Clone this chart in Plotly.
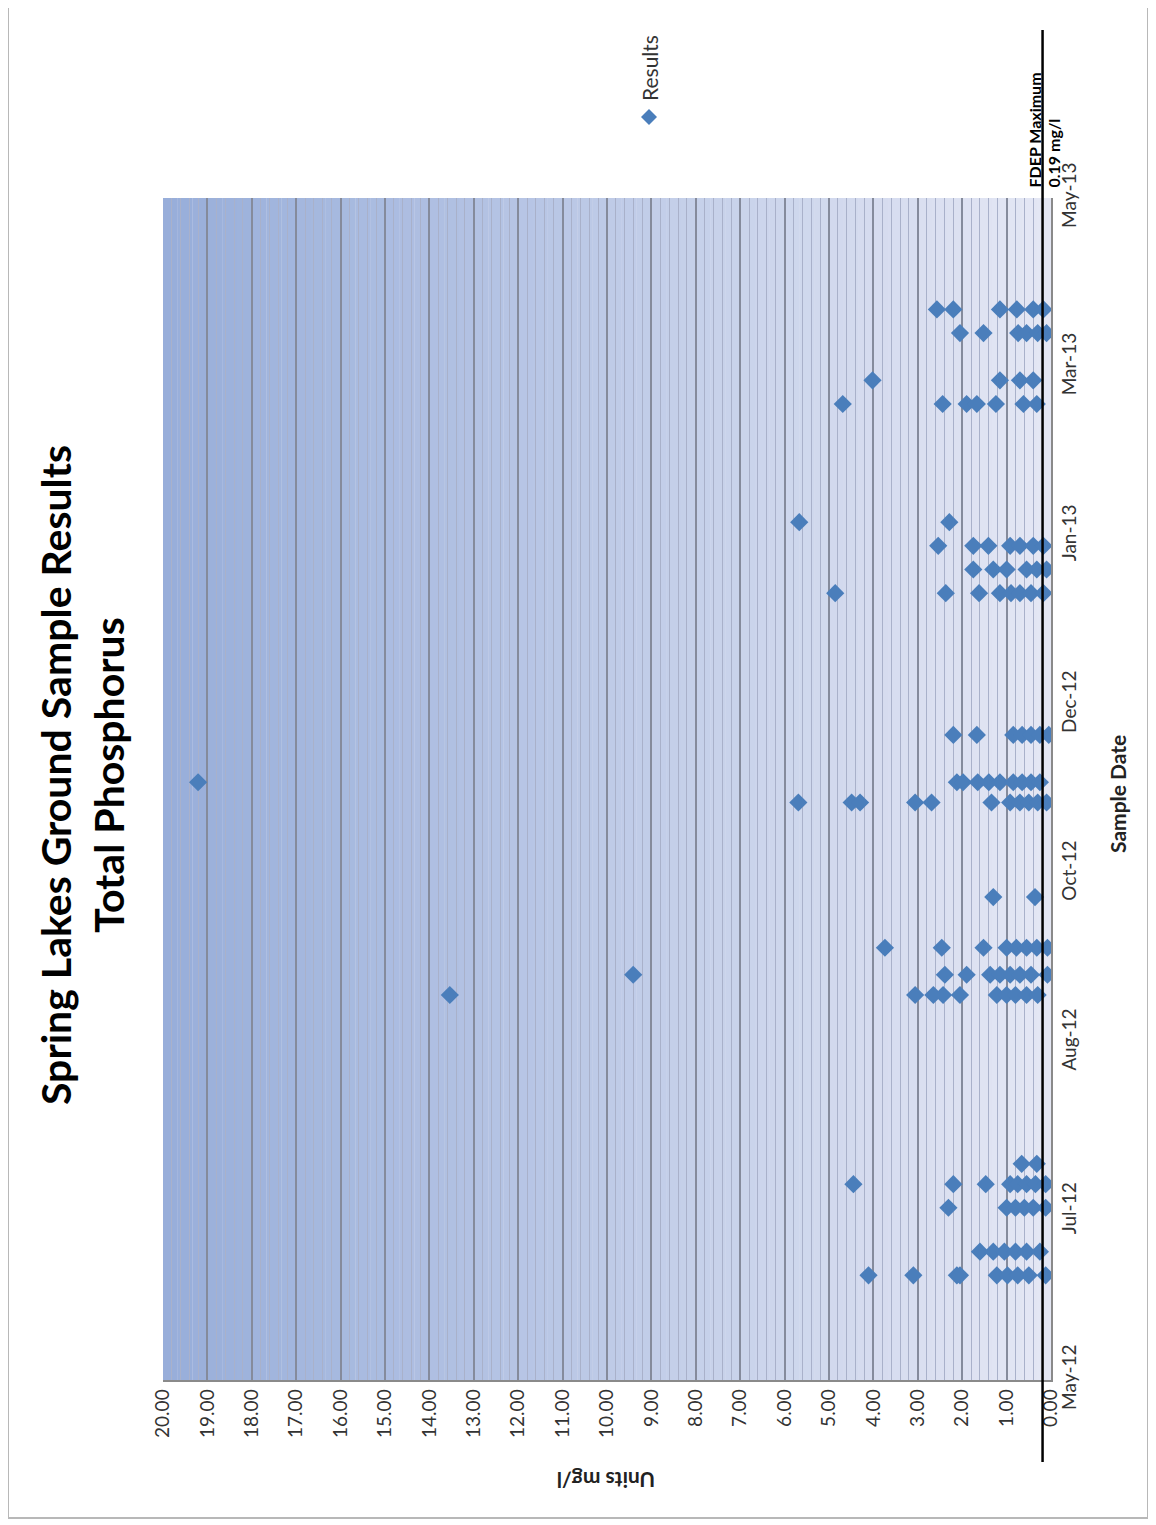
import plotly.graph_objects as go

# ---------------- data ----------------
sample_dates = [
    "2012-06-21", "2012-06-28", "2012-07-11", "2012-07-18", "2012-07-24",
    "2012-09-12", "2012-09-18", "2012-09-26", "2012-10-11",
    "2012-11-08", "2012-11-14", "2012-11-28",
    "2013-01-09", "2013-01-16", "2013-01-23", "2013-01-30",
    "2013-03-06", "2013-03-13", "2013-03-27", "2013-04-03",
]
results_by_date = [
    [4.11, 3.10, 2.12, 2.05, 1.22, 0.98, 0.75, 0.50, 0.12],
    [1.60, 1.30, 1.05, 0.80, 0.55, 0.25],
    [2.31, 1.00, 0.80, 0.60, 0.40, 0.12],
    [4.45, 2.20, 1.47, 0.92, 0.75, 0.55, 0.35, 0.12],
    [0.66, 0.32],
    [13.54, 3.06, 2.65, 2.43, 2.05, 1.22, 1.00, 0.80, 0.55, 0.30],
    [9.41, 2.39, 1.90, 1.37, 1.15, 0.92, 0.70, 0.45, 0.08],
    [3.74, 2.46, 1.52, 1.00, 0.78, 0.55, 0.32, 0.08],
    [1.30, 0.36],
    [5.69, 4.49, 4.30, 3.06, 2.69, 1.34, 0.92, 0.70, 0.50, 0.30, 0.10],
    [19.21, 2.12, 1.98, 1.65, 1.40, 1.15, 0.85, 0.65, 0.45, 0.25],
    [2.20, 1.67, 0.85, 0.65, 0.45, 0.25, 0.05],
    [4.86, 2.37, 1.62, 1.15, 0.90, 0.70, 0.45, 0.17],
    [1.75, 1.30, 1.00, 0.55, 0.32, 0.10],
    [2.54, 1.75, 1.41, 0.92, 0.70, 0.40, 0.17],
    [5.67, 2.29],
    [4.69, 2.44, 1.90, 1.67, 1.24, 0.62, 0.32],
    [4.02, 1.15, 0.70, 0.40],
    [2.05, 1.52, 0.74, 0.55, 0.30, 0.10],
    [2.57, 2.20, 1.15, 0.77, 0.40, 0.17],
]
date_ticks = ["2012-05-21", "2012-07-10", "2012-08-29", "2012-10-18",
              "2012-12-07", "2013-01-26", "2013-03-17", "2013-05-06"]
value_ticks = list(range(0, 21))
fdep_max = 0.19

title_lines = ["Spring Lakes Ground Sample Results", "Total Phosphorus"]
series_name = "Results"

# ---------------- flatten ----------------
xs, ys = [], []
for d, vals in zip(sample_dates, results_by_date):
    for v in vals:
        xs.append(v)
        ys.append(d)

# ---------------- layout geometry (page pixels) ----------------
OFF = 8                      # default page margin of the html body
W, H = 1156 - OFF, 1525 - OFF
PL, PR, PT, PB = 163, 1051, 198, 1380   # plot area on the page
pw, ph = PR - PL, PB - PT


def px(x):
    return (x - PL) / pw


def py(y):
    return (PB - y) / ph


FONT = "Lato"
blue = "#4a7ebb"

fig = go.Figure()
fig.add_trace(go.Scatter(
    x=xs, y=ys, mode="markers", name=series_name,
    marker=dict(symbol="diamond", size=14, color=blue, line=dict(width=0)),
    showlegend=False,
))

shapes = []
# gradient background strips (drawn below gridlines)
n = 60
c_left = (152, 174, 218)   # at value 20
c_right = (228, 231, 244)  # at value 0
for i in range(n):
    t = i / (n - 1)
    col = tuple(round(c_right[k] + (c_left[k] - c_right[k]) * t) for k in range(3))
    shapes.append(dict(type="rect", xref="x", yref="paper",
                       x0=20 * i / n, x1=20 * (i + 1) / n, y0=0, y1=1,
                       fillcolor="rgb(%d,%d,%d)" % col, line=dict(width=0),
                       layer="below"))
# FDEP maximum line
shapes.append(dict(type="line", xref="x", yref="paper", x0=fdep_max, x1=fdep_max,
                   y0=py(1462), y1=py(30), line=dict(color="black", width=2.5),
                   layer="above"))
# legend diamond
dx, dy = 8 / pw, 8 / ph
lx, ly = px(649), py(117)
shapes.append(dict(type="path", xref="paper", yref="paper",
                   path=f"M {lx - dx} {ly} L {lx} {ly + dy} L {lx + dx} {ly} L {lx} {ly - dy} Z",
                   fillcolor=blue, line=dict(width=0)))
# outer frame
shapes.append(dict(type="rect", xref="paper", yref="paper",
                   x0=px(8), x1=px(1148), y0=py(1518), y1=py(4),
                   line=dict(color="#b8b8b8", width=2), fillcolor="rgba(0,0,0,0)"))

annotations = [
    dict(text="<br>".join("<b>%s</b>" % t for t in title_lines),
         xref="paper", yref="paper", x=px(82), y=py(775), textangle=-90,
         showarrow=False, font=dict(family=FONT, size=41, color="black"),
         xanchor="center", yanchor="middle"),
    dict(text="<b>Sample Date</b>", xref="paper", yref="paper", x=px(1117), y=py(794),
         textangle=-90, showarrow=False, font=dict(family=FONT, size=21, color="#222"),
         xanchor="center", yanchor="middle"),
    dict(text="<b>Units mg/l</b>", xref="paper", yref="paper", x=px(606), y=py(1481),
         textangle=180, showarrow=False, font=dict(family=FONT, size=21, color="#222"),
         xanchor="center", yanchor="middle"),
    dict(text=series_name, xref="paper", yref="paper", x=px(649), y=py(103),
         textangle=-90, showarrow=False, font=dict(family=FONT, size=21, color="#333"),
         xanchor="center", yanchor="bottom"),
    dict(text="<b>FDEP Maximum</b>", xref="paper", yref="paper", x=px(1034), y=py(190),
         textangle=-90, showarrow=False, font=dict(family=FONT, size=16, color="black"),
         xanchor="center", yanchor="bottom"),
    dict(text="<b>0.19 mg/l</b>", xref="paper", yref="paper", x=px(1053), y=py(190),
         textangle=-90, showarrow=False, font=dict(family=FONT, size=16, color="black"),
         xanchor="center", yanchor="bottom"),
]

fig.update_layout(
    width=W, height=H,
    margin=dict(l=PL - OFF, r=W - (PR - OFF), t=PT - OFF, b=H - (PB - OFF), pad=0),
    paper_bgcolor="white", plot_bgcolor="#dfe3f1",
    showlegend=False,
    shapes=shapes, annotations=annotations,
    xaxis=dict(range=[20, 0], tickvals=value_ticks, tickformat=".2f",
               tickangle=-90, tickfont=dict(family=FONT, size=19, color="#333"),
               showgrid=True, gridcolor="#858b9c", gridwidth=1.5,
               minor=dict(dtick=0.2, showgrid=True, gridcolor="#a9b1ca", gridwidth=1),
               zeroline=False, showline=True, linecolor="#8a8a8a", linewidth=1.5,
               ticks="", fixedrange=True),
    yaxis=dict(type="date", range=[date_ticks[0], date_ticks[-1]],
               tickvals=date_ticks, tickformat="%b-%y", side="right",
               tickangle=-90, tickfont=dict(family=FONT, size=19, color="#333"),
               showgrid=False, zeroline=False, showline=True,
               linecolor="#8a8a8a", linewidth=1.5, ticks="", fixedrange=True),
)

fig.write_html("out.html")
